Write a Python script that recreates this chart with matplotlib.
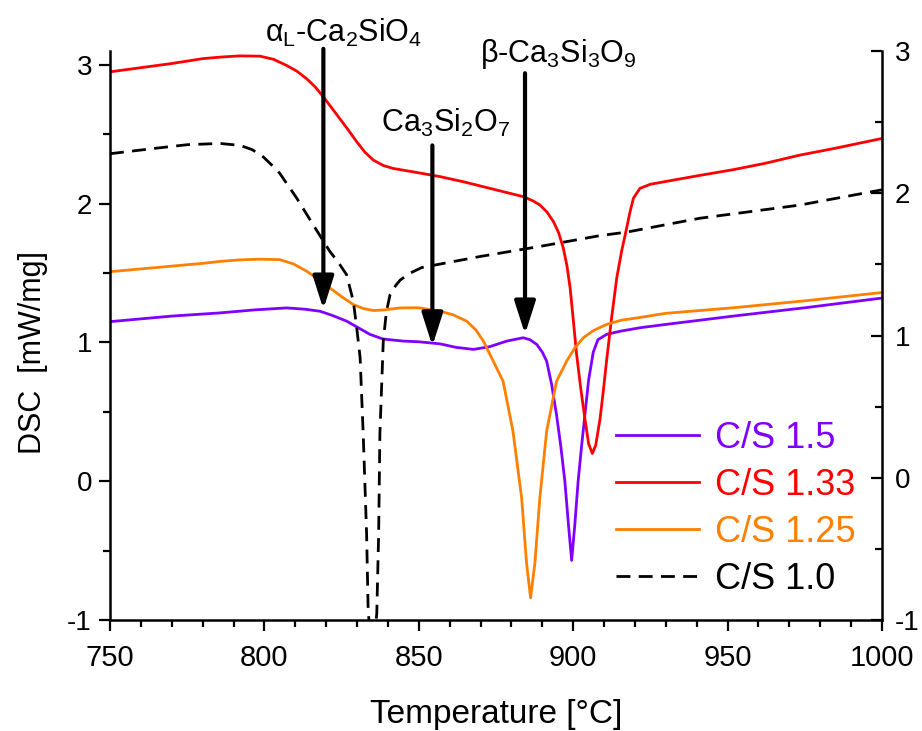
import matplotlib
matplotlib.use("Agg")
import matplotlib.pyplot as plt
from matplotlib.ticker import MultipleLocator

plt.rcParams['font.family'] = ['Liberation Sans', 'DejaVu Sans']
plt.rcParams['mathtext.fontset'] = 'custom'
plt.rcParams['mathtext.rm'] = 'Liberation Sans'
plt.rcParams['mathtext.it'] = 'Liberation Sans:italic'
plt.rcParams['mathtext.default'] = 'regular'
plt.rcParams['axes.unicode_minus'] = False

# C/S 1.5 (purple)
t_15 = [750, 770, 785.6, 797, 807.2, 813, 818, 822, 826.6, 830.5, 834.2, 838.4, 845, 850,
        856.9, 862, 867.7, 873, 878.5, 883.8, 886, 888.2, 890, 891.4, 893, 894.6, 896,
        897.3, 898.5, 899.5, 900.5, 901.6, 902.7, 903.8, 905, 906.5, 908, 910.8, 915,
        921.6, 930, 951.8, 975, 1000]
dsc_15 = [1.15, 1.19, 1.213, 1.235, 1.249, 1.24, 1.225, 1.195, 1.154, 1.105, 1.058, 1.025,
          1.01, 1.005, 0.99, 0.965, 0.95, 0.97, 1.01, 1.034, 1.02, 0.986, 0.93, 0.866, 0.70,
          0.48, 0.25, 0.00, -0.32, -0.57, -0.32, 0.00, 0.25, 0.48, 0.73, 0.93, 1.02, 1.058,
          1.08, 1.106, 1.13, 1.19, 1.25, 1.32]

# C/S 1.33 (red)
t_133 = [750, 760, 770, 780, 785.6, 792, 798.6, 803, 807.2, 810.5, 813.7, 816.5, 819.1,
         821.8, 824.5, 827.2, 829.9, 832.6, 835.3, 838.5, 841.7, 848, 856.9, 865, 873.1,
         878.5, 883.8, 887, 889.2, 891.5, 893.6, 895.3, 896.8, 898, 899, 900, 901.1, 902.5,
         903.8, 905, 906.2, 907.3, 908.7, 909.8, 910.8, 912.4, 914.1, 915.7, 917.3, 918.4,
         919.5, 921.6, 925, 930, 940, 951.8, 962, 973.4, 985, 1000]
dsc_133 = [2.95, 2.98, 3.01, 3.045, 3.056, 3.065, 3.063, 3.04, 2.996, 2.955, 2.90, 2.84, 2.77,
           2.69, 2.61, 2.53, 2.446, 2.37, 2.314, 2.275, 2.254, 2.23, 2.195, 2.155, 2.11,
           2.08, 2.051, 2.02, 1.991, 1.94, 1.871, 1.79, 1.68, 1.55, 1.393, 1.17, 0.915, 0.66,
           0.45, 0.27, 0.20, 0.26, 0.45, 0.66, 0.866, 1.17, 1.464, 1.66, 1.823, 1.94,
           2.039, 2.11, 2.14, 2.16, 2.20, 2.245, 2.29, 2.35, 2.40, 2.47]

# C/S 1.25 (orange)
t_125 = [750, 760, 770, 780, 785.6, 792, 798, 805, 809.5, 813.7, 817.5, 821.2, 825, 828.8,
         832, 835.3, 839, 843.9, 850, 856.9, 861, 865.5, 868.5, 870.9, 874.1, 877.3, 880.5,
         883.3, 884.9, 886.2, 887.6, 889.2, 891.4, 894.6, 897.9, 900.5, 903.3, 906.5,
         910.8, 915.5, 921.6, 930, 951.8, 975, 1000]
dsc_125 = [1.51, 1.53, 1.55, 1.57, 1.584, 1.595, 1.60, 1.597, 1.565, 1.513, 1.455, 1.393,
           1.33, 1.273, 1.245, 1.23, 1.235, 1.249, 1.25, 1.225, 1.20, 1.154, 1.09, 1.01,
           0.866, 0.72, 0.36, -0.12, -0.59, -0.84, -0.59, -0.12, 0.36, 0.72, 0.866, 0.96,
           1.034, 1.085, 1.13, 1.16, 1.18, 1.21, 1.25, 1.30, 1.36]

# C/S 1.0 (black dashed)
t_10 = [750, 765, 775, 785.6, 792.1, 796, 799.6, 802.3, 805, 810.5, 815.8, 821.2, 824,
        826.6, 828.8, 829.9, 831, 832, 833.1, 833.6, 835, 836.4, 837, 837.4, 838.5, 839.5,
        840.7, 842.5, 844, 847.2, 851, 856.9, 870, 889.2, 908.7, 917.3, 941, 973.4, 1000]
dsc_10 = [2.36, 2.40, 2.425, 2.434, 2.42, 2.39, 2.338, 2.28, 2.218, 2.039, 1.848, 1.656,
          1.575, 1.489, 1.297, 1.106, 0.89, 0.34, -0.38, -0.93, -1.3, -0.95, -0.38, 0.34,
          1.01, 1.22, 1.345, 1.41, 1.45, 1.50, 1.54, 1.565, 1.62, 1.692, 1.77, 1.795,
          1.895, 1.99, 2.10]

labels = ['C/S 1.5', 'C/S 1.33', 'C/S 1.25', 'C/S 1.0']
colors = ['#8000FF', '#FF0000', '#FF8000', 'black']

# phase arrows: (label, x, y_top, y_tip, label_x, label_y)
phases = [
    (r'α$_L$-Ca$_2$SiO$_4$', 819.1, 3.116, 1.24, 825.5, 3.23),
    (r'Ca$_3$Si$_2$O$_7$', 854.4, 2.42, 0.975, 858.8, 2.58),
    (r'β-Ca$_3$Si$_3$O$_9$', 884.4, 2.94, 1.06, 895.2, 3.08),
]

fig = plt.figure(figsize=(9.22, 7.31), dpi=100)
ax = fig.add_axes([0.1193, 0.1518, 0.8373, 0.7784])

ax.plot(t_15, dsc_15, color=colors[0], lw=2, label=labels[0])
ax.plot(t_133, dsc_133, color=colors[1], lw=2, label=labels[1])
ax.plot(t_125, dsc_125, color=colors[2], lw=2, label=labels[2])
ax.plot(t_10, dsc_10, color=colors[3], lw=2, ls=(0, (5, 3)), label=labels[3])

ax.set_xlim(750, 1000)
ax.set_ylim(-1, 3.1)
ax.xaxis.set_major_locator(MultipleLocator(50))
ax.xaxis.set_minor_locator(MultipleLocator(10))
ax.yaxis.set_major_locator(MultipleLocator(1))
ax.yaxis.set_minor_locator(MultipleLocator(0.5))
ax.tick_params(which='major', direction='out', length=8, width=1.6, labelsize=20, pad=5)
ax.tick_params(which='minor', direction='out', length=5, width=1.6)
ax.tick_params(axis='x', labelsize=21, pad=9)
for s in ['left', 'bottom', 'right']:
    ax.spines[s].set_linewidth(1.8)
ax.spines['top'].set_visible(False)
ax.spines['right'].set_visible(False)

ax.set_xlabel('Temperature [°C]', fontsize=24, labelpad=20)
ax.set_ylabel('DSC  [mW/mg]', fontsize=22)
ax.yaxis.set_label_coords(-0.08, 0.471)

# right-hand axis (Origin style)
ax2 = ax.twinx()
ax2.set_ylim(-1, 3)
ax2.yaxis.set_major_locator(MultipleLocator(1))
ax2.yaxis.set_minor_locator(MultipleLocator(0.5))
ax2.tick_params(which='major', direction='in', length=8, width=1.6, labelsize=20, pad=9)
ax2.tick_params(which='minor', direction='in', length=5, width=1.6)
ax2.spines['right'].set_linewidth(1.8)
for s in ['top', 'left', 'bottom']:
    ax2.spines[s].set_visible(False)

for text, x, y0, y1, tx, ty in phases:
    ax.annotate('', xy=(x, y1), xytext=(x, y0), annotation_clip=False,
                arrowprops=dict(arrowstyle='-|>,head_length=1.0,head_width=0.32',
                                mutation_scale=20, lw=3, color='black',
                                shrinkA=0, shrinkB=0))
    ax.text(tx, ty, text, fontsize=22, ha='center', va='center', clip_on=False)

leg = ax.legend(loc='upper left', bbox_to_anchor=(0.655, 0.35), frameon=False,
                fontsize=26, handlelength=2.3, handletextpad=0.45, labelspacing=0.33,
                borderpad=0, borderaxespad=0)
for txt, c in zip(leg.get_texts(), colors):
    txt.set_color(c)

fig.savefig('out.png', dpi=100)
